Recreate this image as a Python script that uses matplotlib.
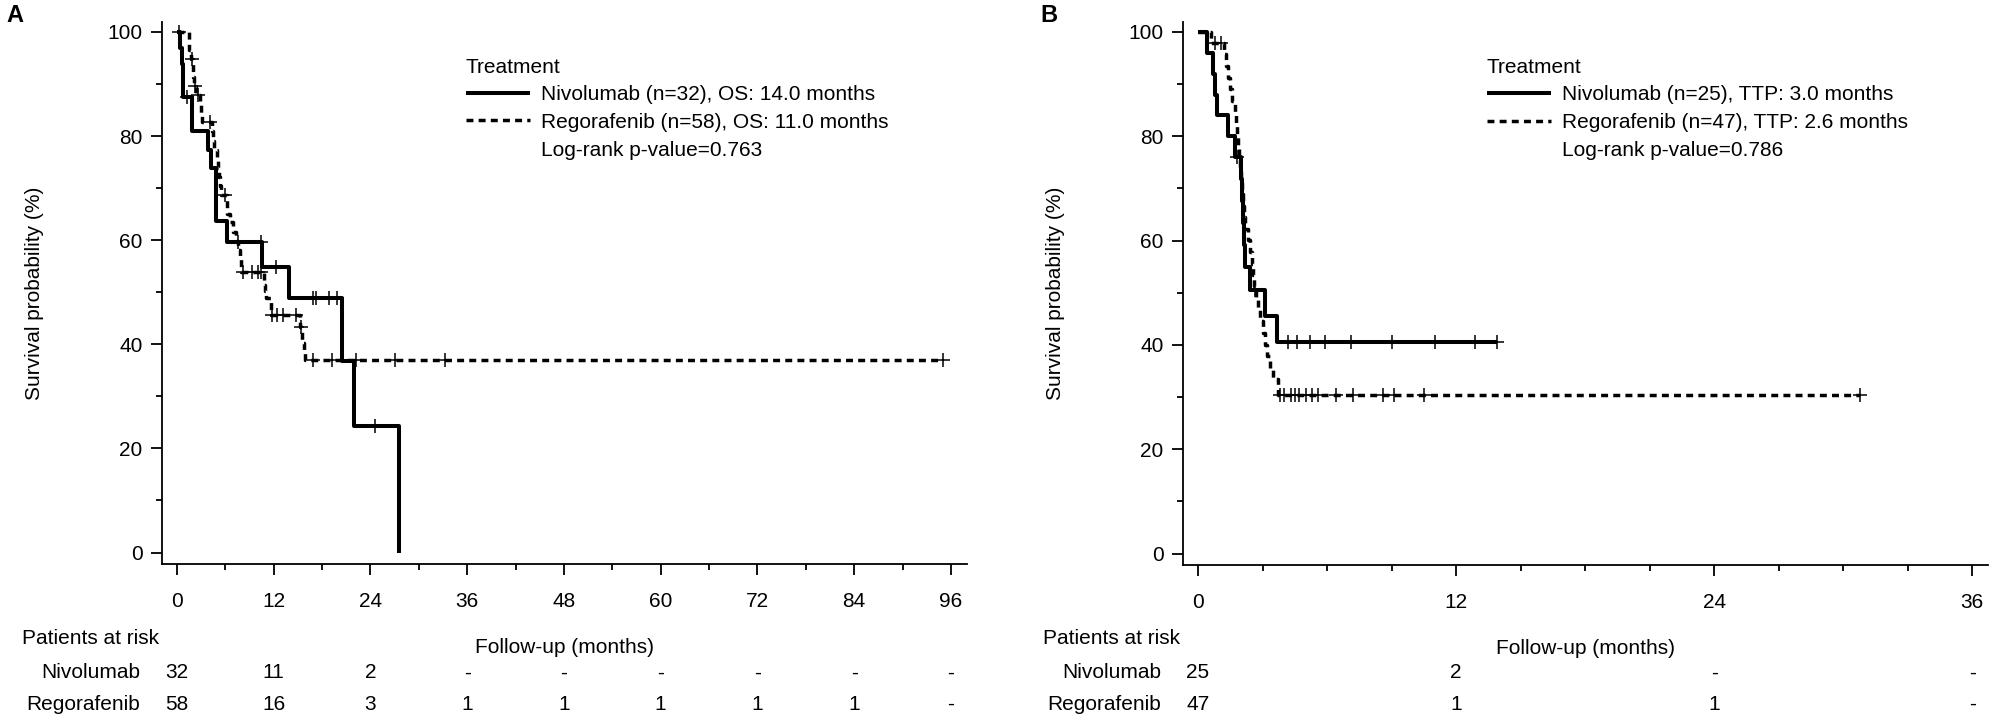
import numpy as np
import matplotlib
matplotlib.use("Agg")
import matplotlib.pyplot as plt
from matplotlib.lines import Line2D
from matplotlib.ticker import MultipleLocator
from matplotlib import transforms

plt.rcParams['font.family'] = ['Liberation Sans', 'DejaVu Sans']

# ---- panel A: overall survival ----
a_nivo_t = [0, 0.4, 0.6, 0.7, 0.8, 1.8, 3.8, 4.2, 4.9, 6.2, 10.6, 13.95, 20.5, 22.0, 27.5]
a_nivo_s = [100, 96.9, 93.8, 90.6, 87.5, 80.9, 77.3, 73.9, 63.6, 59.6, 54.9, 48.8, 36.7, 24.3, 0]
a_nivo_cens = [1.2, 7.6, 10.4, 12.3, 16.9, 17.2, 18.8, 19.8, 24.6]

a_rego_t = [0, 1.5, 1.7, 2.0, 2.1, 2.3, 2.9, 3.0, 3.1, 4.4, 4.5, 4.6, 5.0, 5.1, 5.2, 5.3,
            5.5, 6.2, 6.6, 6.9, 7.3, 7.6, 7.8, 8.0, 10.8, 10.95, 11.0, 11.6, 15.3, 15.5, 15.7, 15.9]
a_rego_s = [100, 96.5, 94.8, 91.3, 89.6, 87.9, 86.1, 84.4, 82.6, 80.9, 79.1, 77.4, 75.6, 73.9, 72.1, 70.4,
            68.6, 65.1, 63.4, 61.6, 59.9, 58.1, 56.3, 53.9, 51.4, 50.2, 48.9, 45.6, 43.3, 40.2, 38.6, 37.0]
a_rego_cens = [0.3, 1.9, 2.2, 2.6, 4.1, 6.0, 8.15, 9.3, 10.0, 10.4, 11.75, 12.4, 13.2, 14.8,
               15.35, 16.9, 19.2, 22.2, 27.0, 33.3, 95.0]

a_ticks = [0, 12, 24, 36, 48, 60, 72, 84, 96]
a_risk_nivo = ['32', '11', '2', '-', '-', '-', '-', '-', '-']
a_risk_rego = ['58', '16', '3', '1', '1', '1', '1', '1', '-']
a_labels = ['Nivolumab (n=32), OS: 14.0 months', 'Regorafenib (n=58), OS: 11.0 months',
            'Log-rank p-value=0.763']

# ---- panel B: time to progression ----
b_nivo_t = [0, 0.4, 0.7, 0.8, 0.9, 1.4, 1.7, 2.0, 2.05, 2.1, 2.15, 2.2, 2.4, 3.1, 3.66]
b_nivo_s = [100, 96, 92, 88, 84, 80, 76, 71.8, 67.6, 63.3, 59.1, 54.9, 50.6, 45.6, 40.5]
b_nivo_cens = [1.8, 2.65, 4.2, 4.6, 5.2, 5.9, 7.1, 9.0, 11.0, 12.9, 13.9]

b_rego_t = [0, 0.6, 1.2, 1.3, 1.4, 1.5, 1.6, 1.7, 1.75, 1.8, 1.85, 1.9, 1.95, 2.0, 2.05, 2.1,
            2.15, 2.2, 2.3, 2.4, 2.5, 2.55, 2.6, 2.7, 2.8, 2.9, 3.0, 3.1, 3.2, 3.35, 3.5, 3.7]
b_rego_s = [100, 97.9, 95.7, 93.4, 91.2, 89.0, 86.8, 84.5, 82.3, 80.1, 77.9, 75.6, 73.4, 71.2, 69.0, 66.7,
            64.5, 62.3, 60.1, 57.8, 55.6, 53.4, 51.2, 48.9, 46.7, 44.5, 42.3, 40.0, 37.8, 35.6, 33.4, 30.4]
b_rego_cens = [0.8, 1.05, 3.8, 4.0, 4.3, 4.5, 4.7, 5.0, 5.3, 5.6, 6.4, 7.2, 8.6, 9.1, 10.5, 30.8]

b_ticks = [0, 12, 24, 36]
b_risk_nivo = ['25', '2', '-', '-']
b_risk_rego = ['47', '1', '1', '-']
b_labels = ['Nivolumab (n=25), TTP: 3.0 months', 'Regorafenib (n=47), TTP: 2.6 months',
            'Log-rank p-value=0.786']

W, H = 1990, 717
fig = plt.figure(figsize=(W / 100, H / 100), dpi=100)
FS = 15
DOT = (0, (2.0, 1.5))


def px_box(left, right, top, bottom):
    return [left / W, 1 - bottom / H, (right - left) / W, (bottom - top) / H]


def km_line(ax, t, s, cens, ls, lw):
    t = list(t)
    s = list(s)
    end = max(cens) if cens else t[-1]
    if s[-1] > 0 and end > t[-1]:
        t = t + [end]
        s = s + [s[-1]]
    line, = ax.step(t, s, where='post', color='black', linestyle=ls, lw=lw,
                    solid_capstyle='butt', dash_capstyle='butt')
    idx = np.searchsorted(np.array(t), np.array(cens), side='right') - 1
    cy = np.array(s)[idx]
    ax.plot(cens, cy, linestyle='none', marker='+', ms=10, mew=1.1, color='black')
    return line


def panel(box, xlim, ticks, minor, curves, risk_nivo, risk_rego, labels, letter, letter_x):
    ax = fig.add_axes(box)
    l1 = km_line(ax, *curves[0], '-', 2.9)
    l2 = km_line(ax, *curves[1], DOT, 2.5)
    ax.set_xlim(*xlim)
    ax.set_ylim(-2.2, 101.9)
    ax.set_xticks(ticks)
    ax.xaxis.set_minor_locator(MultipleLocator(minor))
    ax.set_yticks([0, 20, 40, 60, 80, 100])
    ax.yaxis.set_minor_locator(MultipleLocator(10))
    for side in ['top', 'right']:
        ax.spines[side].set_visible(False)
    for side in ['left', 'bottom']:
        ax.spines[side].set_linewidth(1.3)
    ax.tick_params(axis='both', which='major', length=8, width=1.3, labelsize=FS, colors='black')
    ax.tick_params(axis='both', which='minor', length=4.5, width=1.3)
    ax.tick_params(axis='x', which='major', pad=12)
    ax.tick_params(axis='y', which='major', pad=6)
    ax.set_ylabel('Survival probability (%)', fontsize=FS)
    ax.yaxis.set_label_coords(-0.147, 0.5)
    ax.set_xlabel('Follow-up (months)', fontsize=FS)
    ax.xaxis.set_label_coords(0.5, -0.137)

    # legend: title drawn as text, entries below it
    ax.text(0.3776, (564 - 67) / 542, 'Treatment', transform=ax.transAxes,
            ha='left', va='center', fontsize=FS)
    blank = Line2D([], [], linestyle='none')
    ax.legend([l1, l2, blank], labels, loc='upper left',
              bbox_to_anchor=(0.3776, (564 - 85) / 542), frameon=False, borderpad=0,
              borderaxespad=0, handlelength=3.05, handletextpad=0.55, labelspacing=0.42,
              fontsize=FS)

    tr = transforms.blended_transform_factory(ax.transData, fig.transFigure)
    trx = transforms.blended_transform_factory(ax.transAxes, fig.transFigure)
    for x, n1, n2 in zip(ticks, risk_nivo, risk_rego):
        ax.text(x, 1 - 673 / H, n1, transform=tr, ha='center', va='center', fontsize=FS)
        ax.text(x, 1 - 704 / H, n2, transform=tr, ha='center', va='center', fontsize=FS)
    ax.text(-140 / 805, 1 - 639 / H, 'Patients at risk', transform=trx, ha='left', va='center', fontsize=FS)
    ax.text(-22 / 805, 1 - 673 / H, 'Nivolumab', transform=trx, ha='right', va='center', fontsize=FS)
    ax.text(-22 / 805, 1 - 704 / H, 'Regorafenib', transform=trx, ha='right', va='center', fontsize=FS)
    fig.text(letter_x / W, 1 - 4 / H, letter, ha='left', va='top', fontsize=17, fontweight='bold')
    return ax


panel(px_box(162, 967, 22, 564), (-1.86, 98.0), a_ticks, 6,
      [(a_nivo_t, a_nivo_s, a_nivo_cens), (a_rego_t, a_rego_s, a_rego_cens)],
      a_risk_nivo, a_risk_rego, a_labels, 'A', 6)
panel(px_box(1183, 1988, 22, 565), (-0.70, 36.74), b_ticks, 3,
      [(b_nivo_t, b_nivo_s, b_nivo_cens), (b_rego_t, b_rego_s, b_rego_cens)],
      b_risk_nivo, b_risk_rego, b_labels, 'B', 1040)

fig.savefig('out.png', dpi=100)
